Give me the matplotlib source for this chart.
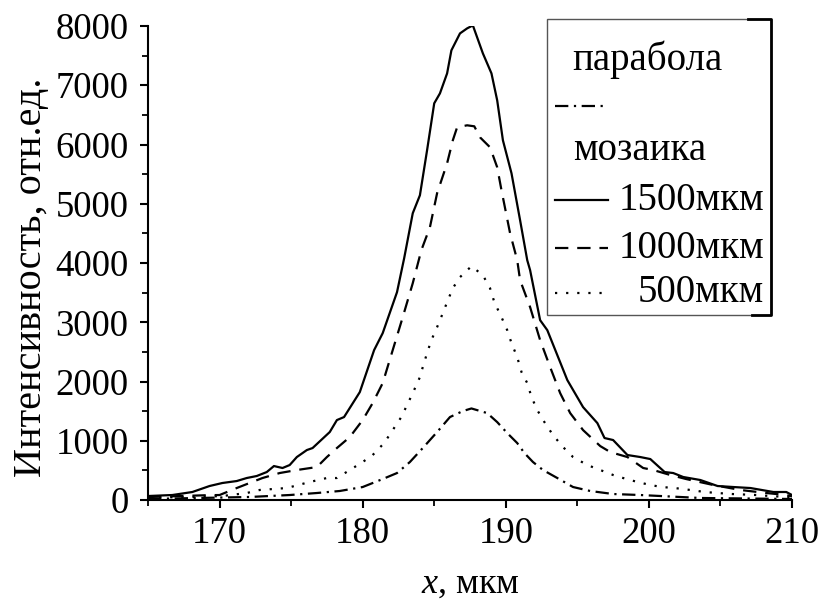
import matplotlib
matplotlib.use("Agg")
import matplotlib.pyplot as plt
from matplotlib.lines import Line2D
from matplotlib.patches import Rectangle
from matplotlib.ticker import MultipleLocator

plt.rcParams["font.family"] = ["Liberation Serif", "DejaVu Serif"]
plt.rcParams["mathtext.fontset"] = "custom"
plt.rcParams["mathtext.it"] = "Liberation Serif:italic"
plt.rcParams["mathtext.rm"] = "Liberation Serif"

# Mosaic crystal, 1500 um
x_1500 = [165.0, 166.7, 168.1, 169.3, 170.2, 171.2, 171.9, 172.6, 173.3, 173.8, 174.4, 174.9,
          175.4, 176.1, 176.5, 177.7, 178.2, 178.7, 179.8, 180.8, 181.4, 182.4, 182.9, 183.5,
          184.0, 184.5, 185.0, 185.4, 185.9, 186.2, 186.8, 187.3, 187.7, 188.4, 189.0, 189.4,
          189.8, 190.4, 191.0, 191.5, 191.7, 192.4, 192.9, 194.3, 195.4, 196.4, 196.9, 197.5,
          198.5, 199.4, 200.1, 201.1, 201.7, 202.4, 203.6, 204.8, 205.9, 207.1, 208.7, 209.6, 210.0]
y_1500 = [67, 84, 135, 236, 287, 320, 371, 405, 472, 573, 540, 590,
          725, 843, 877, 1147, 1349, 1400, 1821, 2530, 2816, 3508, 4081, 4840,
          5143, 5902, 6695, 6863, 7200, 7589, 7875, 7960, 8010, 7538, 7200, 6745,
          6071, 5514, 4722, 4047, 3879, 3035, 2867, 2024, 1568, 1298, 1046, 1012,
          759, 725, 691, 472, 455, 388, 337, 236, 219, 202, 135, 135, 84]

# Mosaic crystal, 1000 um
x_1000 = [165.0, 167.0, 169.0, 170.0, 171.2, 172.1, 173.0, 174.2, 175.4, 176.8, 177.5, 178.2,
          179.1, 180.0, 180.7, 181.4, 182.1, 182.8, 183.5, 184.1, 184.7, 185.2, 185.9, 186.3,
          186.6, 187.3, 187.8, 188.2, 188.9, 189.4, 189.7, 190.3, 190.8, 191.0, 191.7, 192.4,
          193.1, 193.8, 194.5, 195.4, 196.6, 197.3, 198.5, 199.6, 200.3, 201.5, 202.6, 204.5,
          206.4, 208.2, 209.6, 210.0]
y_1000 = [50, 65, 80, 84, 202, 287, 371, 455, 506, 556, 725, 877,
          1062, 1349, 1636, 1973, 2530, 3086, 3659, 4216, 4604, 5177, 5683, 6071,
          6290, 6324, 6307, 6121, 5953, 5616, 5228, 4503, 4047, 3710, 3255, 2698,
          2243, 1804, 1467, 1180, 910, 809, 725, 540, 506, 422, 354, 253,
          169, 118, 84, 60]

# Mosaic crystal, 500 um
x_500 = [165.0, 168.1, 170.2, 171.9, 172.8, 174.7, 176.3, 177.5, 178.2, 179.1, 180.0, 180.7,
         181.5, 182.1, 182.7, 183.1, 183.5, 184.0, 184.2, 184.5, 184.8, 185.2, 185.6, 185.9,
         186.3, 186.8, 187.6, 188.4, 188.9, 189.2, 189.7, 190.1, 190.4, 190.8, 191.1, 191.5,
         191.8, 192.2, 192.7, 193.3, 194.0, 194.7, 195.7, 196.6, 197.5, 198.2, 199.2, 200.1,
         200.9, 201.8, 202.9, 203.9, 204.8, 205.8, 207.5, 208.5, 209.6, 210.0]
y_500 = [40, 51, 67, 118, 169, 202, 304, 371, 371, 506, 641, 759,
         961, 1180, 1400, 1602, 1804, 2074, 2243, 2479, 2698, 2917, 3153, 3339,
         3575, 3761, 3946, 3794, 3575, 3339, 3086, 2867, 2648, 2411, 2159, 1973,
         1737, 1518, 1315, 1096, 894, 725, 590, 506, 422, 371, 304, 253,
         219, 202, 169, 135, 118, 101, 84, 67, 51, 45]

# Parabolic lens
x_par = [165.0, 172.1, 174.9, 176.8, 178.4, 180.0, 181.4, 182.4, 183.3, 184.2, 185.2, 186.1,
         187.0, 187.6, 188.7, 189.4, 190.1, 190.8, 191.3, 191.9, 192.6, 193.6, 194.7, 195.9,
         197.5, 199.4, 203.6, 210.0]
y_par = [17, 51, 84, 118, 152, 219, 354, 455, 641, 877, 1147, 1400,
         1501, 1545, 1467, 1315, 1130, 961, 793, 641, 506, 371, 219, 152,
         101, 84, 34, 17]

legend_labels = ["парабола", "мозаика", "1500мкм", "1000мкм", "500мкм"]

W, H, DPI = 827, 602, 100
fig = plt.figure(figsize=(W / DPI, H / DPI), dpi=DPI)
ax = fig.add_axes([148 / W, 1 - 500 / H, (792 - 148) / W, (500 - 26) / H])

lw = 1.6
sty_solid = dict(color="black", lw=lw, linestyle="-")
sty_dash = dict(color="black", lw=lw, linestyle=(0, (6, 4)))
sty_dot = dict(color="black", lw=lw, linestyle=(0, (1, 4)))
sty_dashdot = dict(color="black", lw=lw, linestyle=(0, (6, 2.5, 1, 2.5)))

ax.plot(x_1500, y_1500, **sty_solid)
ax.plot(x_1000, y_1000, **sty_dash)
ax.plot(x_500, y_500, **sty_dot)
ax.plot(x_par, y_par, **sty_dashdot)

ax.set_xlim(165, 210)
ax.set_ylim(0, 8000)
ax.xaxis.set_major_locator(MultipleLocator(10))
ax.xaxis.set_minor_locator(MultipleLocator(5))
ax.yaxis.set_major_locator(MultipleLocator(1000))
ax.yaxis.set_minor_locator(MultipleLocator(500))

for side in ("top", "right"):
    ax.spines[side].set_visible(False)
for side in ("left", "bottom"):
    ax.spines[side].set_linewidth(1.5)

ax.tick_params(which="major", direction="out", length=6, width=1.5, labelsize=26.5)
ax.tick_params(axis="y", which="major", pad=8)
ax.tick_params(axis="x", which="major", pad=6)
ax.tick_params(which="minor", direction="out", length=4, width=1.3)

ax.set_ylabel("Интенсивность, отн.ед.", fontsize=29)
ax.yaxis.set_label_coords(-0.152, 0.47)
ax.set_xlabel(r"$x$, мкм", fontsize=26, labelpad=12)

# Legend frame and entries, placed in pixel units of the figure
def fx(px):
    return px / W

def fy(py):
    return 1 - py / H

fig.patches.append(Rectangle((fx(547), fy(315)), fx(771) - fx(547), fy(19) - fy(315),
                             transform=fig.transFigure, fill=False,
                             edgecolor="#555555", lw=1.0))
fig.lines.append(Line2D([fx(748), fx(771), fx(771), fx(752)],
                        [fy(19), fy(19), fy(315), fy(315)],
                        transform=fig.transFigure, color="black", lw=2.0))

fs = 28
fig.text(fx(572), fy(60), legend_labels[0], fontsize=fs, va="center", ha="left")
fig.lines.append(Line2D([fx(555), fx(606)], [fy(106), fy(106)],
                        transform=fig.transFigure, **sty_dashdot))
fig.text(fx(573), fy(150), legend_labels[1], fontsize=fs, va="center", ha="left")

rows = [(200, sty_solid, legend_labels[2]),
        (248, sty_dash, legend_labels[3]),
        (293, sty_dot, legend_labels[4])]
for py, sty, lab in rows:
    fig.lines.append(Line2D([fx(555), fx(608)], [fy(py), fy(py)],
                            transform=fig.transFigure, **sty))
    fig.text(fx(764), fy(py), lab, fontsize=fs, va="center", ha="right")

fig.savefig("out.png", dpi=DPI)
